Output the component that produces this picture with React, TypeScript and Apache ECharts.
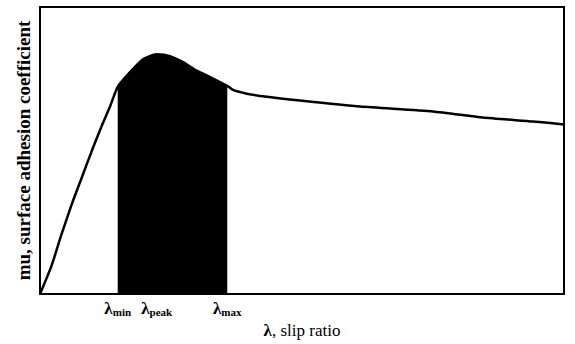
import React, { useEffect, useRef } from "react";
import * as echarts from "echarts";

const slipRatio = [0, 2.23, 4.14, 6.05, 7.96, 9.87, 11.77, 13.36, 14.83, 17.18, 19.66, 22.27, 24.81, 27.29, 29.9, 32.44, 35.74, 36.83, 39.45, 43.3, 49.6, 61.1, 75.0, 84.5, 94.1, 100];
const adhesion = [0, 0.1, 0.21, 0.312, 0.405, 0.498, 0.585, 0.653, 0.722, 0.773, 0.818, 0.835, 0.829, 0.808, 0.778, 0.756, 0.725, 0.711, 0.698, 0.687, 0.674, 0.653, 0.636, 0.615, 0.601, 0.591];

const lambdaMin = 14.83;
const lambdaPeak = 22.27;
const lambdaMax = 35.74;
const tickValues = [lambdaMin, lambdaPeak, lambdaMax];
const tickLabels = ["{l|λ}{s|min}", "{l|λ}{s|peak}", "{l|λ}{s|max}"];

const xName = "{b|λ}{r|, slip ratio}";
const yName = "mu, surface adhesion coefficient";

export default function App() {
  const ref = useRef<HTMLDivElement>(null);
  useEffect(() => {
    document.body.style.margin = "0";
    const chart = echarts.init(ref.current!, undefined, { renderer: "svg" });
    const pts = slipRatio.map((x, i) => [x, adhesion[i]]);
    const shaded = pts.filter((p) => p[0] >= lambdaMin && p[0] <= lambdaMax);
    const font = "'Liberation Serif', 'DejaVu Serif', serif";
    chart.setOption({
      animation: false,
      backgroundColor: "#fff",
      grid: {
        left: 40,
        right: 11,
        top: 7,
        bottom: 46,
        show: true,
        borderColor: "#000",
        borderWidth: 2,
        backgroundColor: "transparent",
      },
      xAxis: {
        type: "value",
        min: 0,
        max: 100,
        axisLine: { show: false },
        axisTick: { show: false },
        splitLine: { show: false },
        axisLabel: {
          customValues: tickValues,
          margin: 5,
          formatter: (v: number) => {
            const i = tickValues.findIndex((t) => Math.abs(t - v) < 1e-6);
            return i >= 0 ? tickLabels[i] : "";
          },
          rich: {
            l: { fontFamily: font, fontSize: 17, fontWeight: "bold", color: "#000" },
            s: { fontFamily: font, fontSize: 11, fontWeight: "bold", color: "#000", verticalAlign: "bottom", padding: [7, 0, 0, 0] },
          },
        },
        name: xName,
        nameLocation: "middle",
        nameGap: 28,
        nameTextStyle: {
          rich: {
            b: { fontFamily: font, fontSize: 17, fontWeight: "bold", color: "#000" },
            r: { fontFamily: font, fontSize: 17, color: "#000" },
          },
        },
      },
      yAxis: {
        type: "value",
        min: 0,
        max: 1,
        axisLine: { show: false },
        axisTick: { show: false },
        splitLine: { show: false },
        axisLabel: { show: false },
        name: yName,
        nameLocation: "middle",
        nameGap: 7,
        nameTextStyle: { fontFamily: font, fontSize: 19, fontWeight: "bold", color: "#000" },
      },
      series: [
        {
          type: "line",
          data: shaded,
          smooth: 0.2,
          symbol: "none",
          lineStyle: { color: "#000", width: 1 },
          areaStyle: { color: "#000", opacity: 1 },
          z: 1,
        },
        {
          type: "line",
          data: pts,
          smooth: 0.2,
          symbol: "none",
          lineStyle: { color: "#000", width: 2.5 },
          z: 2,
        },
      ],
    });
    return () => chart.dispose();
  }, []);
  return <div ref={ref} style={{ width: 575, height: 344 }} />;
}
